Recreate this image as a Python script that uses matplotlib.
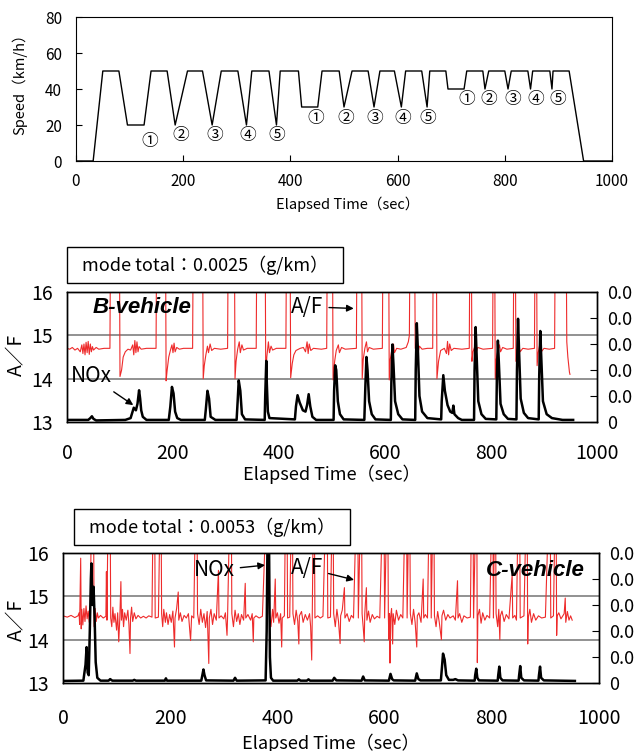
import matplotlib
matplotlib.use("Agg")
import matplotlib.pyplot as plt
from matplotlib.patches import Rectangle

plt.rcParams['font.family'] = ['Noto Sans CJK JP', 'DejaVu Sans']

# ---- speed pattern (top panel) ----
speed_t = [0, 32, 50, 80, 96, 127, 140, 170, 185, 208,
           236, 254, 271, 302, 318, 328, 360, 374, 381, 415,
           421, 451, 459, 491, 500, 515, 545, 556, 567, 594,
           607, 615, 645, 655, 660, 690, 694, 724, 729, 759,
           763, 770, 800, 806, 812, 843, 848, 852, 884, 888,
           890, 920, 947, 1000]
speed_v = [0, 0, 50, 50, 20, 20, 50, 50, 20, 50,
           50, 20, 50, 50, 20, 50, 50, 20, 50, 50,
           30, 30, 50, 50, 30, 50, 50, 30, 50, 50,
           30, 50, 50, 30, 50, 50, 40, 40, 50, 50,
           40, 50, 50, 40, 50, 50, 40, 50, 50, 40,
           50, 50, 0, 0]

circ_labels = ['①', '②', '③', '④', '⑤']
circ_t = [[137, 195, 259, 321, 374], [447, 503, 558, 609, 656], [729, 770, 814, 857, 898]]
circ_y = [[10.6, 14.3, 14.3, 14.3, 14.3], [23.5] * 5, [34.3] * 5]

# ---- B-vehicle: A/F (left axis) and NOx (right axis) ----
b_af = [(0, 14.70), (5, 14.68), (10, 14.72), (15, 14.66), (20, 14.70), (25, 14.62), (28, 14.78), (30, 14.58),
        (32, 14.80), (34, 14.55), (36, 14.84), (38, 14.60), (40, 14.86), (42, 14.56), (44, 14.80), (46, 14.62),
        (48, 14.74), (50, 14.66), (55, 14.72), (60, 14.68), (70, 14.70), (81, 14.70), (82, 17), (99, 17),
        (100, 14.05), (103, 14.2), (106, 14.5), (110, 14.62), (115, 14.68), (120, 14.66), (124, 14.78),
        (126, 14.55), (128, 14.88), (130, 14.6), (132, 14.85), (134, 14.62), (136, 14.74), (140, 14.68),
        (150, 14.70), (168, 14.70), (169, 17), (186, 17), (187, 13.95), (189, 14.2), (192, 14.5), (195, 14.65),
        (198, 14.78), (200, 14.6), (202, 14.82), (204, 14.62), (207, 14.72), (212, 14.68), (220, 14.70),
        (237, 14.70), (238, 17), (256, 17), (257, 14.0), (259, 14.3), (262, 14.55), (265, 14.75), (267, 14.6),
        (270, 14.8), (273, 14.65), (278, 14.70), (290, 14.68), (303, 14.70), (304, 17), (316, 17), (317, 14.0),
        (319, 14.4), (322, 14.68), (325, 14.85), (327, 14.6), (330, 14.78), (333, 14.66), (340, 14.70),
        (357, 14.70), (358, 17), (374, 17), (375, 14.0), (377, 14.5), (380, 14.85), (382, 14.6), (385, 14.75),
        (388, 14.66), (395, 14.70), (413, 14.70), (414, 17), (421, 17), (422, 14.02), (425, 14.35), (428, 14.55),
        (432, 14.65), (440, 14.70), (446, 14.72), (450, 14.62), (453, 14.85), (455, 14.58), (457, 14.8),
        (460, 14.65), (465, 14.70), (480, 14.68), (490, 14.70), (491, 17), (501, 17), (502, 13.97), (505, 14.4),
        (508, 14.65), (512, 14.78), (514, 14.6), (518, 14.72), (525, 14.68), (546, 14.70), (547, 17), (556, 17),
        (557, 14.0), (559, 14.45), (562, 14.7), (565, 14.85), (567, 14.62), (570, 14.72), (578, 14.68),
        (595, 14.70), (596, 17), (607, 17), (608, 13.97), (610, 14.45), (613, 14.68), (616, 14.8), (618, 14.6),
        (622, 14.7), (630, 14.68), (640, 14.72), (644, 14.85), (646, 15.0), (647, 17), (656, 17), (657, 14.7),
        (660, 14.85), (662, 14.58), (665, 14.75), (670, 14.68), (680, 14.70), (690, 14.70), (691, 17),
        (697, 17), (698, 14.0), (701, 14.4), (705, 14.65), (712, 14.70), (716, 14.58), (718, 14.86),
        (720, 14.55), (722, 14.8), (725, 14.65), (730, 14.70), (745, 14.68), (759, 14.70), (760, 17), (763, 17),
        (764, 14.4), (766, 14.62), (770, 14.76), (772, 14.6), (775, 14.72), (785, 14.68), (803, 14.70),
        (804, 17), (807, 17), (808, 14.0), (810, 14.45), (813, 14.65), (816, 14.78), (818, 14.62), (822, 14.72),
        (830, 14.68), (842, 14.70), (843, 17), (846, 17), (847, 14.4), (849, 14.65), (852, 14.8), (855, 14.62),
        (860, 14.7), (870, 14.68), (882, 14.70), (883, 17), (886, 17), (887, 14.3), (889, 14.6), (892, 14.78),
        (895, 14.62), (900, 14.70), (910, 14.68), (920, 14.70), (921, 17), (942, 17), (943, 14.85),
        (945, 14.5), (948, 14.15), (949, 14.1)]

b_nox = [(0, 0.0008), (40, 0.0008), (44, 0.0015), (47, 0.0022), (50, 0.0012), (55, 0.0006), (110, 0.0008),
         (120, 0.0015), (126, 0.0055), (130, 0.0045), (133, 0.007), (136, 0.0122), (138, 0.009), (140, 0.0045),
         (143, 0.002), (150, 0.0008), (192, 0.0008), (195, 0.006), (198, 0.0135), (201, 0.011), (204, 0.004),
         (208, 0.0015), (215, 0.0008), (260, 0.0008), (262, 0.005), (265, 0.012), (268, 0.009), (271, 0.002),
         (280, 0.0008), (320, 0.0008), (322, 0.008), (324, 0.016), (327, 0.012), (330, 0.003), (336, 0.001),
         (373, 0.0008), (374, 0.01), (376, 0.0235), (377, 0.015), (379, 0.004), (382, 0.0015), (430, 0.001),
         (432, 0.006), (435, 0.0103), (439, 0.0075), (445, 0.0045), (450, 0.004), (453, 0.0065), (456, 0.0107),
         (459, 0.006), (463, 0.002), (470, 0.0008), (503, 0.0008), (504, 0.012), (506, 0.0218), (508, 0.02),
         (511, 0.008), (515, 0.003), (522, 0.001), (561, 0.0008), (563, 0.014), (565, 0.025), (567, 0.02),
         (570, 0.008), (575, 0.003), (582, 0.001), (611, 0.0008), (612, 0.015), (614, 0.0298), (616, 0.022),
         (619, 0.008), (625, 0.003), (633, 0.001), (657, 0.0008), (658, 0.02), (660, 0.038), (662, 0.028),
         (665, 0.01), (670, 0.004), (680, 0.0015), (706, 0.001), (707, 0.008), (710, 0.018), (713, 0.012),
         (718, 0.0065), (723, 0.004), (727, 0.0035), (729, 0.0063), (731, 0.003), (738, 0.0015), (745, 0.0008),
         (768, 0.0008), (769, 0.02), (771, 0.0365), (773, 0.025), (776, 0.008), (782, 0.003), (790, 0.0012),
         (810, 0.001), (811, 0.016), (813, 0.0313), (815, 0.022), (818, 0.007), (824, 0.003), (832, 0.0012),
         (848, 0.001), (849, 0.02), (851, 0.0397), (853, 0.027), (856, 0.009), (862, 0.0035), (870, 0.0015),
         (890, 0.001), (891, 0.018), (893, 0.035), (895, 0.024), (898, 0.008), (905, 0.003), (915, 0.0015),
         (935, 0.0008), (955, 0.0008)]

# ---- C-vehicle ----
c_af = [(0, 14.55), (8, 14.52), (15, 14.56), (22, 14.51), (28, 14.55), (30, 14.62), (31, 14.35), (33, 15.88),
        (34, 14.25), (35, 14.7), (37, 14.34), (39, 14.72), (41, 14.42), (43, 14.78), (45, 14.48), (47, 14.66),
        (49, 14.4), (51, 14.7), (53, 17), (57, 17), (58, 14.3), (60, 14.72), (62, 14.42), (64, 14.62),
        (66, 14.5), (70, 14.56), (75, 14.5), (80, 14.54), (81, 15.57), (82, 14.45), (84, 17), (88, 17),
        (89, 14.5), (91, 14.3), (93, 14.75), (95, 14.4), (97, 14.6), (100, 14.22), (102, 14.62), (104, 13.95),
        (106, 14.5), (108, 15.34), (109, 14.45), (111, 14.7), (113, 14.3), (115, 14.62), (118, 14.45),
        (121, 14.68), (123, 14.35), (125, 13.68), (126, 14.5), (128, 14.75), (130, 14.42), (133, 14.62),
        (136, 14.48), (140, 14.56), (145, 14.5), (150, 14.54), (155, 14.5), (160, 14.55), (166, 14.52),
        (168, 17), (171, 17), (172, 14.5), (178, 14.52), (181, 17), (183, 17), (184, 14.6), (186, 14.3),
        (188, 14.7), (191, 14.4), (193, 14.62), (196, 14.35), (199, 14.58), (202, 14.4), (205, 14.66),
        (208, 13.83), (209, 14.5), (212, 14.72), (215, 15.1), (216, 14.45), (219, 14.62), (222, 14.42),
        (226, 14.56), (230, 14.5), (234, 14.6), (236, 14.3), (238, 13.98), (240, 14.55), (244, 14.5),
        (247, 17), (250, 17), (251, 14.6), (254, 14.35), (257, 14.7), (260, 14.4), (263, 14.6), (266, 14.28),
        (269, 14.65), (272, 13.45), (273, 14.5), (276, 14.7), (279, 14.35), (282, 14.6), (286, 14.45),
        (290, 15.6), (291, 14.5), (295, 14.55), (300, 14.48), (303, 14.62), (306, 14.1), (307, 14.5),
        (311, 17), (314, 17), (315, 14.6), (318, 14.3), (321, 14.68), (324, 14.42), (327, 14.6), (330, 14.35),
        (333, 14.58), (337, 14.45), (340, 15.3), (341, 14.5), (345, 14.58), (350, 14.45), (353, 14.6),
        (355, 13.95), (356, 14.5), (360, 14.55), (366, 14.5), (372, 14.54), (379, 17), (384, 17), (385, 14.6),
        (388, 14.3), (391, 14.7), (393, 14.4), (396, 15.4), (397, 14.5), (400, 14.62), (403, 14.38),
        (406, 14.6), (408, 13.83), (409, 14.5), (413, 14.55), (415, 17), (418, 17), (419, 14.5), (423, 14.52),
        (426, 17), (428, 17), (429, 14.6), (432, 14.35), (435, 14.68), (438, 14.42), (440, 13.9),
        (441, 14.55), (445, 14.65), (448, 14.4), (452, 14.58), (456, 14.45), (460, 14.6), (462, 14.3),
        (464, 13.53), (465, 14.5), (467, 17), (469, 17), (470, 14.5), (475, 14.55), (480, 14.5), (485, 14.54),
        (490, 17), (493, 17), (494, 14.5), (499, 14.52), (502, 17), (504, 17), (505, 14.6), (508, 14.3),
        (511, 14.7), (514, 14.42), (517, 13.91), (518, 14.55), (521, 14.68), (525, 15.2), (526, 14.5),
        (530, 14.6), (534, 14.42), (538, 14.56), (542, 14.5), (547, 17), (550, 17), (551, 14.5), (555, 17),
        (557, 17), (558, 14.6), (560, 14.3), (562, 13.95), (563, 14.6), (566, 15.2), (567, 14.45),
        (570, 14.66), (573, 14.4), (577, 14.58), (581, 14.48), (586, 14.54), (591, 14.5), (596, 17), (599, 17),
        (600, 14.5), (604, 17), (606, 17), (607, 14.55), (608, 14.0), (609, 14.6), (610, 13.46), (611, 14.5),
        (613, 14.72), (615, 13.9), (616, 14.6), (619, 14.35), (622, 14.68), (626, 14.45), (630, 14.58),
        (634, 14.5), (638, 17), (641, 17), (642, 14.5), (645, 17), (647, 17), (648, 14.6), (651, 14.35),
        (654, 14.7), (657, 14.4), (660, 13.83), (661, 14.55), (664, 14.62), (668, 14.4), (672, 15.4),
        (673, 14.5), (676, 14.58), (680, 14.5), (683, 17), (686, 17), (687, 14.5), (690, 17), (692, 17),
        (693, 14.55), (696, 14.3), (699, 14.65), (702, 14.4), (706, 14.0), (707, 14.55), (710, 14.68),
        (714, 14.45), (718, 14.58), (722, 14.5), (728, 14.55), (732, 14.45), (736, 15.36), (737, 14.5),
        (740, 14.6), (744, 14.4), (748, 14.55), (754, 14.5), (760, 14.52), (762, 17), (765, 17), (766, 14.5),
        (770, 17), (772, 17), (773, 13.47), (774, 14.55), (777, 14.7), (780, 14.38), (783, 14.62),
        (787, 14.45), (791, 14.56), (796, 14.5), (800, 17), (802, 17), (803, 14.5), (805, 17), (807, 17),
        (808, 14.6), (811, 14.3), (813, 14.7), (815, 14.0), (816, 14.55), (819, 14.66), (823, 14.42),
        (827, 14.58), (832, 14.48), (838, 15.5), (839, 14.5), (843, 14.56), (846, 14.45), (849, 17), (852, 17),
        (853, 14.5), (860, 14.55), (864, 17), (866, 17), (867, 13.9), (868, 14.5), (871, 14.7), (874, 14.4),
        (878, 14.6), (882, 14.45), (887, 14.55), (893, 14.5), (900, 14.52), (906, 17), (909, 17), (910, 14.5),
        (915, 14.55), (918, 17), (920, 17), (921, 14.1), (922, 14.55), (925, 14.62), (929, 14.48),
        (933, 14.56), (935, 14.6), (937, 14.96), (938, 14.4), (941, 14.65), (944, 14.45), (947, 14.55),
        (950, 14.45)]

c_nox = [(0, 0.0008), (38, 0.0009), (40, 0.004), (42, 0.007), (44, 0.0138), (46, 0.004), (48, 0.003),
         (50, 0.02), (52, 0.04), (53, 0.046), (55, 0.03), (57, 0.037), (59, 0.025), (61, 0.008), (64, 0.002),
         (70, 0.0009), (85, 0.0009), (88, 0.0015), (92, 0.0009), (130, 0.0009), (133, 0.0012), (136, 0.0009),
         (190, 0.0009), (192, 0.0018), (194, 0.0009), (258, 0.0009), (260, 0.003), (262, 0.0052), (264, 0.003),
         (267, 0.001), (318, 0.0009), (321, 0.002), (324, 0.0009), (378, 0.001), (380, 0.02), (382, 0.065),
         (384, 0.065), (386, 0.01), (388, 0.002), (392, 0.0009), (437, 0.0009), (440, 0.0014), (443, 0.0009),
         (455, 0.0009), (458, 0.0014), (461, 0.0009), (503, 0.0009), (506, 0.002), (510, 0.001), (557, 0.0009),
         (560, 0.0025), (563, 0.001), (608, 0.0009), (611, 0.0035), (614, 0.0015), (617, 0.001), (657, 0.0009),
         (660, 0.0037), (663, 0.0015), (667, 0.001), (705, 0.001), (707, 0.006), (709, 0.0113), (712, 0.009),
         (715, 0.003), (720, 0.0012), (728, 0.0012), (732, 0.0015), (737, 0.001), (768, 0.0009), (769, 0.003),
         (771, 0.0055), (773, 0.002), (776, 0.001), (811, 0.0009), (812, 0.003), (814, 0.0063), (816, 0.002),
         (820, 0.001), (850, 0.0009), (851, 0.003), (853, 0.0065), (855, 0.002), (860, 0.001), (887, 0.0009),
         (888, 0.003), (890, 0.0063), (892, 0.002), (897, 0.001), (955, 0.0008)]

af_ticks = [13, 14, 15, 16]
nox_ticks = [0, 0.01, 0.02, 0.03, 0.04, 0.05]
# the source image is cropped at the right edge, only "0.0" of these labels is visible
nox_labels = ['0', '0.0', '0.0', '0.0', '0.0', '0.0']
time_ticks = [0, 200, 400, 600, 800, 1000]

RED = '#ee2b2b'
GRID = '#7f7f7f'

W, H = 634, 751
fig = plt.figure(figsize=(W / 100, H / 100), dpi=100)


def px_axes(left, top, right, bottom):
    return fig.add_axes([left / W, 1 - bottom / H, (right - left) / W, (bottom - top) / H])


def box_text(left, top, right, bottom, s):
    fig.patches.append(Rectangle((left / W, 1 - bottom / H), (right - left) / W, (bottom - top) / H,
                                 transform=fig.transFigure, fill=False, ec='k', lw=1))
    fig.text((left + right) / 2 / W, 1 - (top + bottom) / 2 / H, s, ha='center', va='center', fontsize=13)


def af_panel(ax, af, nox, pad_x, ylab_x, ylab_y, xlab_y):
    t, v = zip(*af)
    ax.plot(t, v, color=RED, lw=0.8)
    ax.set_xlim(0, 1000)
    ax.set_ylim(13, 16)
    ax.set_yticks(af_ticks)
    ax.set_xticks(time_ticks)
    for y in [14, 15, 16]:
        ax.axhline(y, color=GRID, lw=1.2, zorder=1)
    ax.tick_params(direction='in', labelsize=14, length=0)
    ax.tick_params(axis='x', pad=pad_x)
    ax.tick_params(axis='y', pad=10)
    ax.set_ylabel('A／F', fontsize=14)
    ax.yaxis.set_label_coords(ylab_x, ylab_y)
    ax.set_xlabel('Elapsed Time（sec）', fontsize=13)
    ax.xaxis.set_label_coords(0.5, xlab_y)
    axr = ax.twinx()
    t2, v2 = zip(*nox)
    axr.plot(t2, v2, color='k', lw=1.8)
    axr.set_ylim(0, 0.05)
    axr.set_yticks(nox_ticks)
    axr.set_yticklabels(nox_labels)
    axr.tick_params(direction='in', labelsize=13, length=5, pad=7, color='k')
    for a in (ax, axr):
        for sp in a.spines.values():
            sp.set_linewidth(1)
    return axr


# ---- top: speed ----
ax0 = px_axes(76, 17, 612, 161)
ax0.plot(speed_t, speed_v, color='k', lw=1)
ax0.set_xlim(0, 1000)
ax0.set_ylim(0, 80)
ax0.set_xticks(time_ticks)
ax0.set_yticks([0, 20, 40, 60, 80])
ax0.tick_params(direction='in', labelsize=11, length=4)
ax0.tick_params(axis='x', pad=9)
ax0.tick_params(axis='y', pad=10)
ax0.set_xlabel('Elapsed Time（sec）', fontsize=10.5)
ax0.xaxis.set_label_coords(0.506, -0.245)
ax0.set_ylabel('Speed（km/h）', fontsize=10.5)
ax0.yaxis.set_label_coords(-0.091, 0.56)
for ts, ys in zip(circ_t, circ_y):
    for lab, t, y in zip(circ_labels, ts, ys):
        ax0.text(t, y, lab, ha='center', va='center', fontsize=12)

arrow_kw = dict(arrowstyle='-|>', color='k', lw=1, mutation_scale=10, shrinkA=2, shrinkB=0)

# ---- B-vehicle ----
box_text(67, 247, 343, 283, 'mode total：0.0025（g/km）')
ax1 = px_axes(67, 292, 597, 422)
af_panel(ax1, b_af, b_nox, 15, -0.075, 0.515, -0.33)
ax1.text(49, 15.65, 'B-vehicle', fontsize=16, fontweight='bold', fontstyle='italic',
         family=['Liberation Sans'], ha='left', va='center', zorder=5)
ax1.annotate('A/F', xy=(541, 15.62), xytext=(423, 15.66), fontsize=15, va='center', arrowprops=arrow_kw)
ax1.annotate('NOx', xy=(125, 13.39), xytext=(7, 14.05), fontsize=15, va='center', arrowprops=arrow_kw)

# ---- C-vehicle ----
box_text(74, 509, 350, 545, 'mode total：0.0053（g/km）')
ax2 = px_axes(63, 553, 599, 683)
af_panel(ax2, c_af, c_nox, 18, -0.067, 0.485, -0.385)
ax2.text(974, 15.6, 'C-vehicle', fontsize=16, fontweight='bold', fontstyle='italic',
         family=['Liberation Sans'], ha='right', va='center', zorder=5)
ax2.annotate('A/F', xy=(543, 15.38), xytext=(425, 15.65), fontsize=15, va='center', arrowprops=arrow_kw)
ax2.annotate('NOx', xy=(377, 15.72), xytext=(244, 15.6), fontsize=15, va='center', arrowprops=arrow_kw)

fig.savefig('out.png', dpi=100)
